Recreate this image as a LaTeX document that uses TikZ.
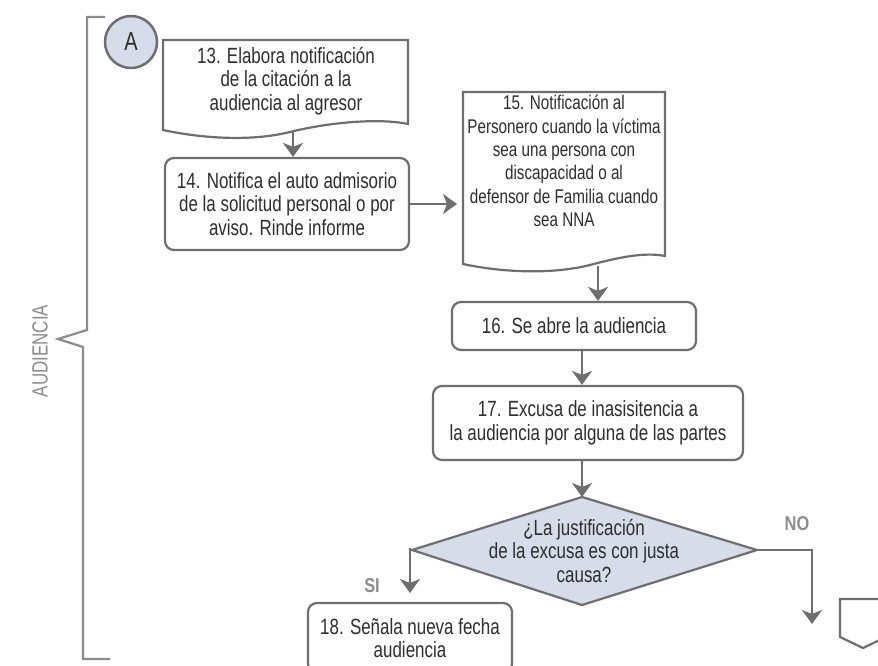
\documentclass[tikz,border=0pt]{standalone}
\usepackage{fontspec}
\setmainfont{Liberation Sans}[FakeStretch=0.77]
\newfontfamily\lblfont{Liberation Sans Bold}[FakeStretch=0.82]
\usetikzlibrary{arrows.meta}
\definecolor{lncol}{HTML}{6E6E6E}
\definecolor{txcol}{HTML}{2E2E2E}
\definecolor{lbcol}{HTML}{8C8C8C}
\definecolor{flcol}{HTML}{D6DCE9}
\begin{document}
\begin{tikzpicture}[x=1pt,y=-1pt,
  every node/.style={font=\fontsize{22}{23.5}\selectfont, text=txcol, align=center, inner sep=0pt},
  box/.style={draw=lncol, line width=2.2pt, rounded corners=9pt, fill=white},
  docshape/.style={draw=lncol, line width=2.2pt, fill=white},
  arr/.style={draw=lncol, line width=2.2pt, -{Stealth[length=14pt,width=20pt,inset=4pt]}},
  brk/.style={draw=lbcol, line width=2.2pt},
  lbl/.style={text=lbcol, font=\lblfont\fontsize{20}{23.5}\selectfont}
]
\useasboundingbox (0,0) rectangle (878,666);
\clip (0,0) rectangle (878,666);

% bracket
\draw[brk] (105,17) -- (87,17) -- (87,330) -- (58,339) -- (83,347) -- (83,659) -- (110,659);
\node[text=lbcol, rotate=90] (aud) at (40,351) {AUDIENCIA};

% connector A
\node[circle, draw=lncol, line width=2.5pt, fill=flcol, minimum size=52pt,
      font=\fontsize{26}{26}\selectfont] (A) at (131,42) {A};

% box 13 (document)
\draw[docshape] (163,40) -- (408,40) -- (408,124)
  .. controls (380,118) and (330,122) .. (290,132)
  .. controls (250,142) and (200,138) .. (163,130) -- cycle;
\node (t13) at (286,81) {13. Elabora notificación\\de la citación a la\\audiencia al agresor};
\coordinate (b13) at (293,132);

% box 14
\node[box, minimum width=244pt, minimum height=92pt] (b14) at (287,204)
  {14. Notifica el auto admisorio\\de la solicitud personal o por\\aviso. Rinde informe};

% box 15 (document)
\draw[docshape] (463,92) -- (665,92) -- (665,256)
  .. controls (645,252) and (620,257) .. (590,265)
  .. controls (550,275) and (500,272) .. (463,264) -- cycle;
\node[font=\fontsize{19.8}{23.3}\selectfont] (t15) at (564,161) {15. Notificación al\\Personero cuando la víctima\\sea una persona con\\discapacidad o al\\defensor de Familia cuando\\sea NNA};
\coordinate (b15w) at (457,204);
\coordinate (b15s) at (598,266);

% box 16
\node[box, minimum width=244pt, minimum height=48pt] (b16) at (574,326) {16. Se abre la audiencia};

% box 17
\node[box, minimum width=310pt, minimum height=74pt] (b17) at (588,423)
  {17. Excusa de inasisitencia a\\la audiencia por alguna de las partes};

% decision
\coordinate (dt) at (582,497);
\coordinate (dr) at (757,550);
\coordinate (db) at (582,605);
\coordinate (dl) at (412,550);
\draw[docshape, fill=flcol, line join=miter] (dt) -- (dr) -- (db) -- (dl) -- cycle;
\node (tq) at (584,551) {¿La justificación\\de la excusa es con justa\\causa?};

% box 18
\node[box, minimum width=204pt, minimum height=70pt] (b18) at (410,638)
  {18. Señala nueva fecha\\audiencia};

% off-page connector
\draw[docshape, line join=miter] (840,599) -- (886,599) -- (886,637) -- (863,648) -- (840,637) -- cycle;

% arrows
\draw[arr] (b13) -- (b13 |- b14.north);
\draw[arr] (b14.east) -- (b15w);
\draw[arr] (b15s) -- (b15s |- b16.north);
\draw[arr] ([xshift=8pt]b16.south) -- ([xshift=8pt]b16.south |- b17.north);
\draw[arr] (b17.south -| dt) -- (dt);
\coordinate (cno) at (812,624);
\draw[arr] (dr) -- (cno |- dr) -- (cno);
\coordinate (csi) at (410,548);
\coordinate (csie) at (410,593);
\draw[arr] (csi) -- (csie);
\node[lbl] (no) at (797,524) {NO};
\node[lbl] (si) at (372,586) {SI};
\end{tikzpicture}
\end{document}
